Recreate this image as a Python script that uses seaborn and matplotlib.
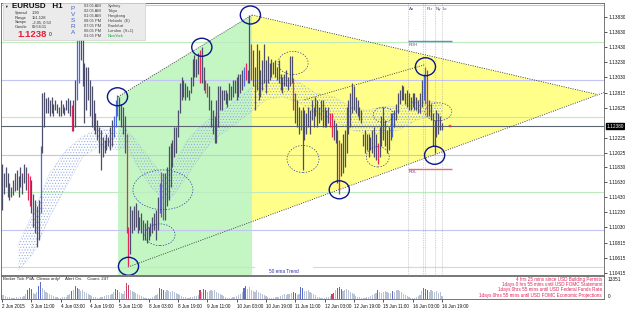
import numpy as np
import pandas as pd
import matplotlib
matplotlib.use("Agg")
import matplotlib.pyplot as plt
import matplotlib.transforms as mtransforms
from matplotlib.patches import Ellipse, Rectangle
import seaborn as sns

sns.set_theme(style="white")
plt.rcParams['font.family'] = ['Liberation Sans', 'DejaVu Sans']
plt.rcParams['hatch.linewidth'] = 0.45

# ---------------- data ----------------
highs = [1.1188, 1.1175, 1.1184, 1.1175, 1.1162, 1.1157, 1.1166, 1.1175, 1.1180, 1.1171,
         1.1184, 1.1175, 1.1188, 1.1184, 1.1175, 1.1171, 1.1166, 1.1148, 1.1140, 1.1131,
         1.1140, 1.1211, 1.1282, 1.1284, 1.1275, 1.1277, 1.1273, 1.1277, 1.1268, 1.1273,
         1.1268, 1.1264, 1.1273, 1.1268, 1.1264, 1.1273, 1.1275, 1.1273, 1.1266, 1.1273,
         1.1299, 1.1353, 1.1379, 1.1380, 1.1357, 1.1322, 1.1317, 1.1317, 1.1299, 1.1291,
         1.1273, 1.1255, 1.1246, 1.1237, 1.1233, 1.1224, 1.1219, 1.1228, 1.1224, 1.1237,
         1.1246, 1.1251, 1.1273, 1.1279, 1.1277, 1.1268, 1.1264, 1.1251, 1.1228, 1.1104,
         1.1131, 1.1126, 1.1131, 1.1135, 1.1126, 1.1117, 1.1122, 1.1113, 1.1109, 1.1113,
         1.1104, 1.1109, 1.1117, 1.1122, 1.1126, 1.1144, 1.1162, 1.1177, 1.1175, 1.1175,
         1.1184, 1.1211, 1.1215, 1.1219, 1.1237, 1.1237, 1.1259, 1.1295, 1.1304, 1.1299,
         1.1295, 1.1291, 1.1286, 1.1304, 1.1328, 1.1333, 1.1328, 1.1335, 1.1339, 1.1344,
         1.1317, 1.1299, 1.1295, 1.1291, 1.1273, 1.1259, 1.1251, 1.1273, 1.1291, 1.1291,
         1.1286, 1.1286, 1.1286, 1.1282, 1.1295, 1.1291, 1.1299, 1.1299, 1.1304, 1.1308,
         1.1308, 1.1313, 1.1317, 1.1322, 1.1313, 1.1386, 1.1348, 1.1339, 1.1317, 1.1348,
         1.1339, 1.1313, 1.1326, 1.1348, 1.1326, 1.1331, 1.1322, 1.1328, 1.1324, 1.1326,
         1.1317, 1.1326, 1.1308, 1.1304, 1.1308, 1.1313, 1.1304, 1.1331, 1.1331, 1.1302,
         1.1282, 1.1273, 1.1264, 1.1259, 1.1264, 1.1259, 1.1255, 1.1264, 1.1259, 1.1273,
         1.1264, 1.1277, 1.1273, 1.1264, 1.1273, 1.1273, 1.1264, 1.1259, 1.1264, 1.1255,
         1.1255, 1.1246, 1.1242, 1.1233, 1.1219, 1.1215, 1.1228, 1.1233, 1.1264, 1.1273,
         1.1282, 1.1295, 1.1291, 1.1277, 1.1273, 1.1264, 1.1259, 1.1228, 1.1233, 1.1228,
         1.1228, 1.1224, 1.1233, 1.1237, 1.1228, 1.1215, 1.1237, 1.1251, 1.1264, 1.1246,
         1.1233, 1.1237, 1.1255, 1.1255, 1.1259, 1.1268, 1.1282, 1.1286, 1.1293, 1.1291,
         1.1282, 1.1286, 1.1282, 1.1277, 1.1282, 1.1282, 1.1277, 1.1273, 1.1282, 1.1299,
         1.1308, 1.1317, 1.1313, 1.1273, 1.1268, 1.1255, 1.1246, 1.1259, 1.1255, 1.1251,
         1.1242]
lows = [1.1126, 1.1148, 1.1157, 1.1144, 1.1140, 1.1144, 1.1146, 1.1151, 1.1153, 1.1144,
        1.1157, 1.1148, 1.1162, 1.1153, 1.1140, 1.1131, 1.1122, 1.1104, 1.1095, 1.1077,
        1.1086, 1.1122, 1.1202, 1.1237, 1.1255, 1.1255, 1.1251, 1.1255, 1.1251, 1.1259,
        1.1255, 1.1251, 1.1251, 1.1255, 1.1253, 1.1259, 1.1255, 1.1251, 1.1231, 1.1231,
        1.1237, 1.1273, 1.1295, 1.1326, 1.1291, 1.1242, 1.1259, 1.1273, 1.1251, 1.1237,
        1.1233, 1.1228, 1.1219, 1.1202, 1.1180, 1.1197, 1.1202, 1.1206, 1.1211, 1.1206,
        1.1211, 1.1224, 1.1237, 1.1251, 1.1246, 1.1237, 1.1228, 1.1202, 1.1095, 1.1051,
        1.1068, 1.1095, 1.1100, 1.1104, 1.1095, 1.1100, 1.1095, 1.1086, 1.1086, 1.1082,
        1.1086, 1.1091, 1.1095, 1.1100, 1.1086, 1.1100, 1.1122, 1.1117, 1.1113, 1.1113,
        1.1131, 1.1140, 1.1157, 1.1184, 1.1197, 1.1202, 1.1224, 1.1255, 1.1273, 1.1277,
        1.1273, 1.1277, 1.1273, 1.1282, 1.1291, 1.1304, 1.1304, 1.1308, 1.1295, 1.1295,
        1.1286, 1.1282, 1.1277, 1.1259, 1.1237, 1.1228, 1.1215, 1.1215, 1.1237, 1.1259,
        1.1259, 1.1273, 1.1268, 1.1264, 1.1273, 1.1273, 1.1277, 1.1282, 1.1273, 1.1277,
        1.1282, 1.1286, 1.1291, 1.1299, 1.1295, 1.1295, 1.1299, 1.1291, 1.1259, 1.1286,
        1.1273, 1.1277, 1.1286, 1.1295, 1.1282, 1.1295, 1.1299, 1.1304, 1.1308, 1.1304,
        1.1299, 1.1295, 1.1286, 1.1282, 1.1291, 1.1291, 1.1286, 1.1291, 1.1295, 1.1259,
        1.1242, 1.1237, 1.1228, 1.1233, 1.1180, 1.1219, 1.1228, 1.1237, 1.1228, 1.1246,
        1.1237, 1.1251, 1.1237, 1.1242, 1.1246, 1.1237, 1.1237, 1.1237, 1.1242, 1.1237,
        1.1224, 1.1219, 1.1215, 1.1162, 1.1148, 1.1171, 1.1175, 1.1184, 1.1202, 1.1228,
        1.1237, 1.1255, 1.1259, 1.1255, 1.1251, 1.1246, 1.1242, 1.1211, 1.1202, 1.1206,
        1.1197, 1.1206, 1.1202, 1.1197, 1.1193, 1.1188, 1.1197, 1.1211, 1.1219, 1.1211,
        1.1202, 1.1206, 1.1219, 1.1224, 1.1237, 1.1246, 1.1255, 1.1268, 1.1273, 1.1273,
        1.1268, 1.1264, 1.1259, 1.1259, 1.1264, 1.1259, 1.1259, 1.1255, 1.1255, 1.1264,
        1.1273, 1.1268, 1.1251, 1.1251, 1.1246, 1.1211, 1.1202, 1.1224, 1.1228, 1.1233,
        1.1233]
red_bars = [14, 15, 38, 68, 69, 87, 108, 111, 112, 133, 136, 159, 179, 180, 184, 205, 232]
blue_bars = [21, 41, 42, 61, 62, 63, 86, 88, 132, 163, 213, 230, 231]

volume = [2600, 2200, 1800, 1400, 1100, 700, 600, 800, 1000, 700, 1100, 1300, 1800, 3000,
          5400, 6200, 5800, 3600,
          3100, 4200, 7800, 9600,
          6600, 5000, 4300, 3600, 3100, 2600, 1800, 1400, 1100, 800, 700, 1000, 1100, 1400, 2200, 3000,
          4600, 5000, 7800, 6200,
          5800, 4800, 5400, 4300, 3600, 2900, 2400, 1700, 1200, 1000, 800, 700, 1100, 1400, 1900, 2400,
          2200, 2600, 3100, 3800,
          6000, 5500, 4200, 3600, 3100, 4800,
          9100, 8400,
          5400, 4600, 4200, 3600, 3100, 2400, 1800, 1200, 800, 700, 600, 800, 1100, 1600, 2200, 3100,
          6200, 5800, 5500,
          4200, 5000, 4600, 4000, 4800, 4300, 3600, 3000, 2400, 1800, 1300, 1000, 800, 700, 1000, 1200,
          1600, 1900, 2600,
          5000, 4200, 5800, 5500, 4200,
          4800, 5400, 4600, 5000, 4300, 3600, 2900, 2200, 1600, 1100, 800, 600, 700, 1000, 1200, 1800,
          2200, 3000, 3800,
          6600, 7400, 5800, 7000,
          5400, 4800, 4200, 5000, 4300, 3600, 2900, 2200, 1600, 1100, 800, 600, 700, 1000, 1100, 1400,
          1800, 2300, 2800, 2400, 3100, 2900,
          3600, 3800, 3400,
          2600, 3100,
          7200, 6500, 4600,
          4800, 5300, 4300, 3600, 2900, 2200, 1400, 1100, 800, 600, 700, 1000, 1200, 1800,
          3100, 3600, 5500, 6200, 6700, 5800, 4800,
          5400, 5900, 5000, 4300, 3600, 2900, 2000, 1300, 1000, 700, 600, 800, 1100, 1400, 1800, 2300,
          2800, 3400,
          5000, 4300, 3600, 4000, 4600, 4200, 3600, 3200, 4800,
          4200, 5000, 5400, 4600, 3800, 3100, 2400, 1700, 1100, 700, 600, 800, 1100, 1600, 2400,
          4600, 6200, 6000, 5500,
          4300, 5300, 4800, 4300, 4600, 3600, 3800, 1900]
vol_red = [14, 15, 16, 38, 68, 69, 87, 108, 110, 111, 159, 160, 180, 181, 183, 184, 205, 232]
vol_blue = [20, 21, 40, 41, 62, 63, 86, 88, 132, 133, 163, 164, 185, 213, 230, 231]
vol_max = 13351

# 50 ema trend ribbon
band_bars = [9, 17, 26, 35, 44, 53, 63, 68, 73, 81, 88, 93, 101, 108, 115, 123, 130, 137, 144,
             153, 163, 171, 181, 190, 199, 208, 217, 226, 235, 240]
band_upper = [1.1082, 1.1122, 1.1175, 1.1206, 1.1224, 1.1235, 1.1231, 1.1233, 1.1219, 1.1193,
              1.1171, 1.1184, 1.1219, 1.1237, 1.1251, 1.1264, 1.1277, 1.1291, 1.1299,
              1.1306, 1.1295, 1.1282, 1.1277, 1.1264, 1.1259, 1.1264, 1.1264, 1.1273, 1.1271, 1.1266]
band_lower = [1.1046, 1.1068, 1.1117, 1.1157, 1.1197, 1.1211, 1.1206, 1.1211, 1.1188, 1.1157,
              1.1140, 1.1144, 1.1171, 1.1197, 1.1219, 1.1233, 1.1246, 1.1259, 1.1273,
              1.1277, 1.1268, 1.1255, 1.1246, 1.1233, 1.1228, 1.1228, 1.1233, 1.1246, 1.1251, 1.1248]

x_tick_bars = [0, 16, 32, 48, 64, 80, 96, 112, 128, 144, 160, 176, 192, 208, 224, 240]
x_tick_labels = ["2 Jun 2015", "3 Jun 11:00", "4 Jun 03:00", "4 Jun 19:00", "5 Jun 11:00",
                 "8 Jun 03:00", "8 Jun 19:00", "9 Jun 11:00", "10 Jun 03:00", "10 Jun 19:00",
                 "11 Jun 11:00", "12 Jun 03:00", "12 Jun 19:00", "15 Jun 11:00", "16 Jun 03:00",
                 "16 Jun 19:00"]
price_tick_labels = ["1.13830", "1.13630", "1.13430", "1.13230", "1.13030", "1.12815", "1.12625",
                     "1.12225", "1.12025", "1.11830", "1.11630", "1.11430", "1.11230",
                     "1.11030", "1.10815", "1.10615", "1.10415"]
price_tick_values = [float(s) for s in price_tick_labels]
current_price = 1.1238
current_label = "1.12380"
round_levels = [1.14, 1.13, 1.12, 1.11]
half_levels = [1.135, 1.125, 1.115, 1.105]

solid_circles_bar = [63, 109, 135.5, 69, 184, 231, 236]
solid_circles_price = [1.1277, 1.1343, 1.1386, 1.1051, 1.1153, 1.1317, 1.1199]
dashed_bar = [87.8, 86.2, 158.8, 164.2, 205, 208, 238]
dashed_price = [1.1153, 1.1093, 1.1322, 1.1194, 1.1197, 1.1253, 1.1257]
dashed_w = [32.7, 16.4, 16.4, 17.5, 12.5, 11, 14.7]
dashed_h = [0.0053, 0.0029, 0.0031, 0.0036, 0.0027, 0.0020, 0.0024]

green_zone_bars = [63.3, 136.4, 136.4, 63.3]
green_zone_prices = [1.1277, 1.1386, 1.1000, 1.1000]
yellow_zone_bars = [136.4, 324.8, 136.4]
yellow_zone_prices = [1.1386, 1.1280, 1.1111]
support_bars = [68.7, 340]
support_prices = [1.1050, 1.1293]
channel_bars = [165, 231]
channel_prices = [1.1273, 1.1320]

session_bars = [221.3, 229.8, 230.8, 236.2, 239.9]
session_labels = ["Ao", "", "Ru", "Ny", "Lc"]
rdh_price, rdl_price = 1.1351, 1.1181
rd_span = [221.3, 245.5]

# ---------------- figure ----------------
W, H = 625, 309
fig = plt.figure(figsize=(W / 100, H / 100), dpi=100, facecolor='white')
def fx(x): return x / W
def fy(y): return 1 - y / H

ax = fig.add_axes([fx(1), fy(275), 603 / W, 272 / H])
vax = fig.add_axes([fx(1), fy(299), 603 / W, 23 / H])
XMIN, XMAX = -0.55, 328.4
YMIN, YMAX = 1.10394, 1.1402

N = len(highs)
idx = np.arange(N)

# zones
ax.fill(green_zone_bars, green_zone_prices, color='#c3f6c3', lw=0, zorder=0)
ax.fill(yellow_zone_bars, yellow_zone_prices, color='#ffff8a', lw=0, zorder=0)

# horizontal levels
for p in round_levels:
    ax.axhline(p, color='#c4c4f2', lw=0.8, zorder=1)
for p in half_levels:
    ax.axhline(p, color='#bdebbd', lw=0.8, zorder=1)
ax.axhline(current_price, color='#5c6670', lw=0.8, zorder=1)

# white box behind "50 ema Trend"
ax.add_patch(Rectangle((138, YMIN), 31.7, 0.00125, facecolor='white', edgecolor='none', zorder=1.5))
ax.text(153.8, 1.10447, "50 ema Trend", fontsize=3.4, color='#2a2aa8', ha='center', va='center', zorder=2)

# ema band
ax.fill_between(band_bars, band_lower, band_upper, facecolor='none', edgecolor='#93a9e0',
                hatch='......', lw=0, zorder=2)
band_df = pd.DataFrame({'bar': band_bars, 'upper': band_upper, 'lower': band_lower})
sns.lineplot(data=band_df, x='bar', y='upper', ax=ax, color='#9fb2e4', lw=0.4, ls=':', zorder=2)
sns.lineplot(data=band_df, x='bar', y='lower', ax=ax, color='#9fb2e4', lw=0.4, ls=':', zorder=2)

# trend lines
dot = dict(color='#303030', lw=0.6, ls=(0, (1.2, 1.6)), zorder=3)
ax.plot([green_zone_bars[0], green_zone_bars[1]], [green_zone_prices[0], green_zone_prices[1]], **dot)
ax.plot(yellow_zone_bars[:2], yellow_zone_prices[:2], **dot)
ax.plot(support_bars, support_prices, **dot)
ax.plot(channel_bars, channel_prices, **dot)

# session lines
ax.vlines(session_bars, YMIN, YMAX, colors='#a9a9a9', lw=0.5, linestyles=(0, (1, 1.5)), zorder=1)
for b, lab in zip(session_bars, session_labels):
    if lab:
        ax.text(b + 0.6, 1.1394, lab, fontsize=3.2, color='#4a4a80', va='center', ha='left', zorder=4)

# RDH / RDL
ax.hlines(rdh_price, rd_span[0], rd_span[1], color='#7282e2', lw=1.0, zorder=3)
ax.hlines(rdl_price, rd_span[0], rd_span[1], color='#e87070', lw=1.0, zorder=3)
ax.text(rd_span[0] + 0.5, rdh_price - 0.0002, "RDH", fontsize=3.0, color='#6a3a9a', va='top', zorder=4)
ax.text(rd_span[0] + 0.5, rdl_price - 0.0002, "RDL", fontsize=3.0, color='#6a3a9a', va='top', zorder=4)

# price bars
colors = []
for i in range(N):
    if i in red_bars:
        colors.append('#e8285a')
    elif i in blue_bars:
        colors.append('#4a68dc')
    else:
        colors.append('#4c4e6c')
ax.vlines(idx, lows, highs, colors=colors, lw=0.9, zorder=4)

# current bar marker
sns.scatterplot(x=[244.4], y=[current_price], ax=ax, color='#ff2020', marker='*', s=8,
                edgecolor='none', zorder=5)

# circles
for b, p in zip(solid_circles_bar, solid_circles_price):
    ax.add_patch(Ellipse((b, p), 11, 0.0024, fill=False, edgecolor='#0c1490', lw=1.0, zorder=5))
for b, p, w, h in zip(dashed_bar, dashed_price, dashed_w, dashed_h):
    ax.add_patch(Ellipse((b, p), w, h, fill=False, edgecolor='#2a3c9c', lw=0.5,
                         ls=(0, (2, 2)), zorder=5))

ax.set_xlim(XMIN, XMAX)
ax.set_ylim(YMIN, YMAX)
ax.set_xticks([])
ax.set_xlabel('')
ax.set_ylabel('')
ax.yaxis.tick_right()
ax.set_yticks(price_tick_values)
ax.set_yticklabels(price_tick_labels)
ax.tick_params(axis='y', right=True, length=2, width=0.5, labelsize=3.4, pad=1.2,
               colors='#111111', direction='out')
for s in ax.spines.values():
    s.set_color('#606060')
    s.set_linewidth(0.6)

trans = mtransforms.blended_transform_factory(ax.transAxes, ax.transData)
ax.text(1.004, current_price, current_label, transform=trans, fontsize=3.4, color='white',
        ha='left', va='center', zorder=10,
        bbox=dict(boxstyle='square,pad=0.15', facecolor='black', edgecolor='black'))

# ---------------- volume panel ----------------
vcat = []
for i in range(N):
    if i in vol_red:
        vcat.append('r')
    elif i in vol_blue:
        vcat.append('b')
    else:
        vcat.append('n')
vdf = pd.DataFrame({'bar': idx, 'vol': volume, 'cat': vcat})
sns.barplot(data=vdf, x='bar', y='vol', hue='cat', native_scale=True, dodge=False,
            palette={'n': '#b4c0da', 'r': '#e8285a', 'b': '#4a62d8'}, width=0.6,
            errorbar=None, legend=False, linewidth=0, ax=vax)
vax.set_xlim(XMIN, XMAX)
vax.set_ylim(0, vol_max)
vax.set_xlabel('')
vax.set_ylabel('')
vax.set_yticks([])
vtrans = mtransforms.blended_transform_factory(vax.transAxes, vax.transData)
vax.text(1.006, vol_max * 0.97, str(vol_max), transform=vtrans, fontsize=3.4, color='#111111',
         ha='left', va='top')
vax.text(1.006, 0, "0", transform=vtrans, fontsize=3.4, color='#111111', ha='left', va='bottom')
vax.set_xticks(x_tick_bars)
vax.set_xticklabels(x_tick_labels, ha='left')
vax.tick_params(axis='x', bottom=True, length=2, width=0.5, labelsize=3.3, pad=1.5,
                colors='#111111', direction='out')
for s in vax.spines.values():
    s.set_color('#606060')
    s.set_linewidth(0.6)
vax.text(0.004, 0.86, "Broker Tick PVA. Climax only!    Alert On.    Count: 247",
         transform=vax.transAxes, fontsize=3.2, color='#202020', va='center', ha='left')

events = ["4 hrs 25 mins since USD Building Permits",
          "1days 0 hrs 55 mins until USD FOMC Statement",
          "1days 0hrs 55 mins until USD Federal Funds Rate",
          "1days 0hrs 55 mins until USD FOMC Economic Projections"]
for k, t in enumerate(events):
    fig.text(fx(602), fy(279.5 + 5.2 * k), t, fontsize=3.3, color='#e2205a', ha='right',
             va='center', zorder=12)

# ---------------- info panel ----------------
fig.add_artist(Rectangle((fx(3), fy(40)), 142 / W, 37 / H, transform=fig.transFigure,
                         facecolor='#ebebeb', edgecolor='#d0d0d0', lw=0.5, zorder=10))
fig.text(fx(4), fy(6.5), "▼", fontsize=2.6, color='#202020', va='center', zorder=11)
fig.text(fx(12), fy(6.8), "EURUSD   H1", fontsize=5.8, fontweight='bold', color='#101010',
         va='center', zorder=11)
info_keys = ["Spread", "Range", "Swaps", "Candle"]
info_vals = ["1.90", "151.128", "-2.05, 0.50", "00:54:11"]
for k, (a, b) in enumerate(zip(info_keys, info_vals)):
    yy = 13 + 4.6 * k
    fig.text(fx(15), fy(yy), a, fontsize=2.9, color='#303030', va='center', zorder=11)
    fig.text(fx(32), fy(yy), b, fontsize=2.9, color='#303030', va='center', zorder=11)
fig.text(fx(17), fy(34.5), "1.1238", fontsize=6.8, fontweight='bold', color='#e2203a',
         va='center', zorder=11)
fig.text(fx(49), fy(35), "0", fontsize=3.6, color='#202020', va='center', zorder=11)
for k, ch in enumerate("PVSRA"):
    fig.text(fx(73), fy(9 + 6 * k), ch, fontsize=4.6, color='#4a5fc8', va='center',
             ha='center', zorder=11)
times = ["03:05 AM", "02:05 AM", "01:05 AM", "08:05 PM", "07:05 PM", "06:05 PM", "01:05 PM"]
cities = ["Sydney", "Tokyo", "Hongkong", "Helsinki  (E)", "Frankfurt", "London  (S+1)", "NewYork"]
city_y = [6, 11, 16, 20.7, 25.7, 31, 36]
for t, c, yy in zip(times, cities, city_y):
    fig.text(fx(84), fy(yy), t, fontsize=2.9, color='#404040', va='center', zorder=11)
    fig.text(fx(108), fy(yy), c, fontsize=2.9, color='#20a040' if c == "NewYork" else '#404040',
             va='center', zorder=11)

fig.savefig("out.png", dpi=100, facecolor='white')
